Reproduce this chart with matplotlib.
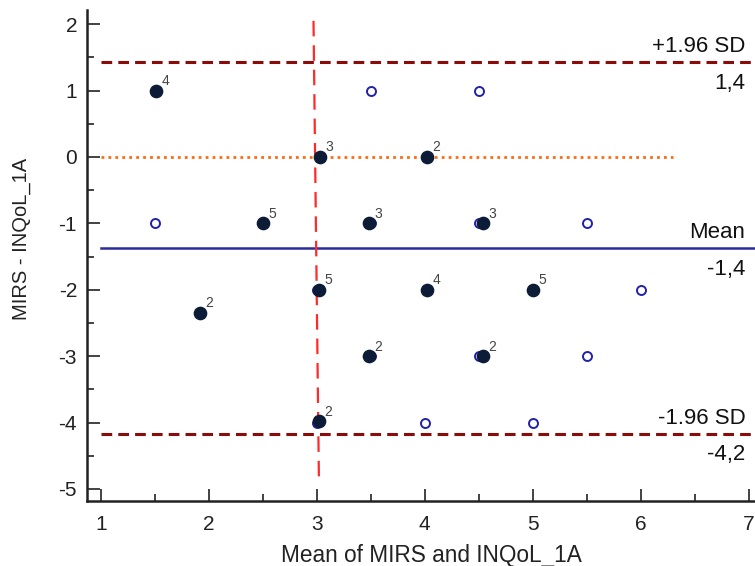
import numpy as np
import matplotlib.pyplot as plt
from matplotlib.ticker import MultipleLocator

plt.rcParams['font.family'] = ['Liberation Sans', 'DejaVu Sans']
plt.rcParams['axes.unicode_minus'] = False

# filled points (observed pairs) with their counts
filled_x = [1.51, 3.03, 4.02, 2.50, 3.48, 4.54, 3.02, 4.02, 5.00, 1.92, 3.48, 4.54, 3.02]
filled_y = [1.0, 0.0, 0.0, -1.0, -1.0, -1.0, -2.0, -2.0, -2.0, -2.35, -3.0, -3.0, -3.98]
counts = ['4', '3', '2', '5', '3', '3', '5', '4', '5', '2', '2', '2', '2']

# open circles
open_x = [3.5, 4.5, 1.5, 3.5, 4.5, 5.5, 3.0, 6.0, 3.5, 4.5, 5.5, 3.0, 4.0, 5.0]
open_y = [1.0, 1.0, -1.0, -1.0, -1.0, -1.0, -2.0, -2.0, -3.0, -3.0, -3.0, -4.0, -4.0, -4.0]

mean_diff = -1.37
upper_loa = 1.43
lower_loa = -4.17
ref_x = [2.97, 3.02]
ref_y = [2.05, -4.85]

fig = plt.figure(figsize=(7.55, 5.66), dpi=100)
ax = fig.add_axes([0.115, 0.115, 0.885, 0.867])

ax.set_xlim(0.87, 7.06)
ax.set_ylim(-5.18, 2.21)

# reference lines
ax.plot([1.0, 7.06], [upper_loa, upper_loa], color='#8b0a0a', lw=2.2, ls=(0, (3.5, 2)))
ax.plot([1.0, 7.06], [lower_loa, lower_loa], color='#8b0a0a', lw=2.2, ls=(0, (3.5, 2)))
ax.plot([1.0, 7.06], [mean_diff, mean_diff], color='#2b2b9a', lw=1.8)
ax.plot([1.0, 6.3], [0, 0], color='#ff6a10', lw=2, ls=(0, (1, 1.5)))
ax.plot(ref_x, ref_y, color='#ff2a2a', lw=1.6, ls=(0, (7, 4)))

ax.scatter(open_x, open_y, s=42, facecolors='white', edgecolors='#2222a8', linewidths=1.4, zorder=3)
ax.scatter(filled_x, filled_y, s=78, color='#0c1c36', zorder=4)
for x, y, c in zip(filled_x, filled_y, counts):
    ax.annotate(c, (x, y), xytext=(4, 4), textcoords='offset points',
                fontsize=10, color='#444444', zorder=5)

# line labels
for yv, top, bottom in [(upper_loa, '+1.96 SD', '1,4'),
                        (mean_diff, 'Mean', '-1,4'),
                        (lower_loa, '-1.96 SD', '-4,2')]:
    ax.text(6.97, yv + 0.08, top, ha='right', va='bottom', fontsize=16, color='#111111')
    ax.text(6.97, yv - 0.16, bottom, ha='right', va='top', fontsize=16, color='#111111')

ax.xaxis.set_major_locator(MultipleLocator(1))
ax.xaxis.set_minor_locator(MultipleLocator(0.5))
ax.yaxis.set_major_locator(MultipleLocator(1))
ax.yaxis.set_minor_locator(MultipleLocator(0.5))
ax.tick_params(which='major', direction='in', length=9, width=1.2, color='#222222',
               labelsize=15, pad=7, labelcolor='#222222')
ax.tick_params(axis='x', which='major', pad=10)
ax.tick_params(which='minor', direction='in', length=5, width=1.2, color='#222222')

for side in ['top', 'right']:
    ax.spines[side].set_visible(False)
for side in ['left', 'bottom']:
    ax.spines[side].set_linewidth(1.8)
    ax.spines[side].set_color('#222222')

ax.set_xlabel('Mean of MIRS and INQoL_1A', fontsize=16.3, color='#222222')
ax.set_ylabel('MIRS - INQoL_1A', fontsize=14.5, color='#222222')
ax.xaxis.set_label_coords(0.516, -0.088)
ax.yaxis.set_label_coords(-0.083, 0.534)

fig.savefig('out.png', dpi=100)
